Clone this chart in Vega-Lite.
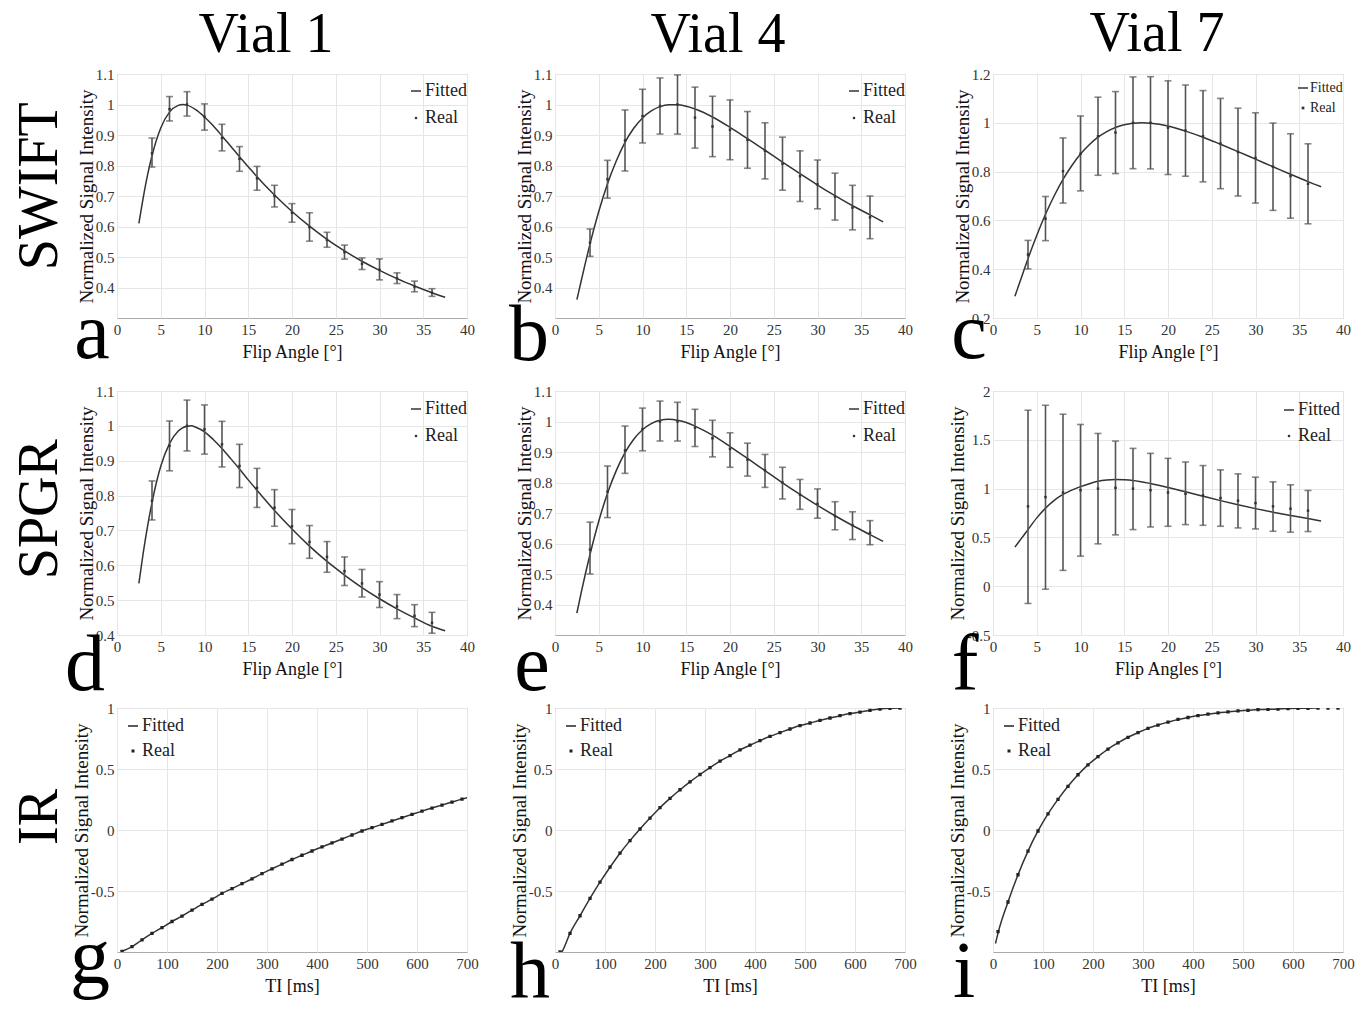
{
"$schema": "https://vega.github.io/schema/vega-lite/v6.json",
"background": "white",
"padding": {"left": 10, "top": 5, "right": 5, "bottom": 2},
"config": {
 "font": "Liberation Serif",
 "view": {"stroke": "#aaaaaa", "strokeWidth": 1},
 "style": {"guide-label": {"font": "Liberation Serif", "fill": "#333"}, "guide-title": {"font": "Liberation Serif"}},
 "axis": {"grid": true, "gridColor": "#e6e6e6", "gridWidth": 1, "domain": false, "ticks": false, "labelFont": "Liberation Serif", "labelFontSize": 15, "labelColor": "#333", "labelFlush": false, "labelOverlap": false, "labelBound": false, "titleFont": "Liberation Serif", "titleFontWeight": "normal", "titleColor": "#111"},
 "axisX": {"labelPadding": 4, "titlePadding": 6, "titleFontSize": 18},
 "axisY": {"labelPadding": 3, "titlePadding": -1, "titleFontSize": 19},
 "legend": {"labelFont": "Liberation Serif", "labelColor": "#222", "symbolStrokeWidth": 1.5, "padding": 0, "labelOffset": 0},
 "title": {"font": "Liberation Serif", "fontWeight": "normal", "color": "#000"}
},
"datasets": {
 "a_fit": [{"x":2.5,"y":0.61},{"x":3,"y":0.695},{"x":3.5,"y":0.77},{"x":4,"y":0.832},{"x":5,"y":0.923},{"x":6,"y":0.975},{"x":7,"y":0.997},{"x":7.5,"y":1.0},{"x":8,"y":0.998},{"x":9,"y":0.983},{"x":10,"y":0.959},{"x":11,"y":0.93},{"x":12,"y":0.897},{"x":13,"y":0.863},{"x":14,"y":0.829},{"x":15,"y":0.796},{"x":16,"y":0.763},{"x":18,"y":0.703},{"x":20,"y":0.649},{"x":22,"y":0.601},{"x":24,"y":0.558},{"x":26,"y":0.52},{"x":28,"y":0.486},{"x":30,"y":0.456},{"x":32,"y":0.429},{"x":34,"y":0.405},{"x":36,"y":0.383},{"x":37.5,"y":0.368}],
 "a_pts": [{"x":4,"y":0.84,"lo":0.795,"hi":0.89,"series":"Real"},{"x":6,"y":0.985,"lo":0.946,"hi":1.026,"series":"Real"},{"x":8,"y":1.0,"lo":0.962,"hi":1.042,"series":"Real"},{"x":10,"y":0.96,"lo":0.916,"hi":1.002,"series":"Real"},{"x":12,"y":0.89,"lo":0.848,"hi":0.935,"series":"Real"},{"x":14,"y":0.822,"lo":0.781,"hi":0.862,"series":"Real"},{"x":16,"y":0.758,"lo":0.719,"hi":0.797,"series":"Real"},{"x":18,"y":0.7,"lo":0.664,"hi":0.735,"series":"Real"},{"x":20,"y":0.645,"lo":0.614,"hi":0.675,"series":"Real"},{"x":22,"y":0.598,"lo":0.552,"hi":0.645,"series":"Real"},{"x":24,"y":0.556,"lo":0.532,"hi":0.581,"series":"Real"},{"x":26,"y":0.516,"lo":0.493,"hi":0.539,"series":"Real"},{"x":28,"y":0.478,"lo":0.459,"hi":0.497,"series":"Real"},{"x":30,"y":0.458,"lo":0.425,"hi":0.494,"series":"Real"},{"x":32,"y":0.43,"lo":0.413,"hi":0.448,"series":"Real"},{"x":34,"y":0.403,"lo":0.386,"hi":0.421,"series":"Real"},{"x":36,"y":0.383,"lo":0.371,"hi":0.396,"series":"Real"}],
 "b_fit": [{"x":2.5,"y":0.36},{"x":3,"y":0.422},{"x":3.5,"y":0.484},{"x":4,"y":0.543},{"x":5,"y":0.649},{"x":6,"y":0.74},{"x":7,"y":0.815},{"x":8,"y":0.876},{"x":9,"y":0.922},{"x":10,"y":0.956},{"x":11,"y":0.979},{"x":12,"y":0.993},{"x":13,"y":0.999},{"x":14,"y":0.999},{"x":15,"y":0.994},{"x":16,"y":0.985},{"x":18,"y":0.959},{"x":20,"y":0.925},{"x":22,"y":0.888},{"x":24,"y":0.85},{"x":26,"y":0.811},{"x":28,"y":0.773},{"x":30,"y":0.736},{"x":32,"y":0.701},{"x":34,"y":0.668},{"x":36,"y":0.638},{"x":37.5,"y":0.615}],
 "b_pts": [{"x":4,"y":0.547,"lo":0.502,"hi":0.592,"series":"Real"},{"x":6,"y":0.755,"lo":0.693,"hi":0.817,"series":"Real"},{"x":8,"y":0.882,"lo":0.782,"hi":0.982,"series":"Real"},{"x":10,"y":0.962,"lo":0.874,"hi":1.05,"series":"Real"},{"x":12,"y":0.995,"lo":0.903,"hi":1.087,"series":"Real"},{"x":14,"y":1.0,"lo":0.903,"hi":1.097,"series":"Real"},{"x":16,"y":0.957,"lo":0.857,"hi":1.057,"series":"Real"},{"x":18,"y":0.928,"lo":0.829,"hi":1.027,"series":"Real"},{"x":20,"y":0.917,"lo":0.819,"hi":1.015,"series":"Real"},{"x":22,"y":0.884,"lo":0.791,"hi":0.977,"series":"Real"},{"x":24,"y":0.848,"lo":0.756,"hi":0.94,"series":"Real"},{"x":26,"y":0.806,"lo":0.719,"hi":0.893,"series":"Real"},{"x":28,"y":0.765,"lo":0.682,"hi":0.848,"series":"Real"},{"x":30,"y":0.738,"lo":0.658,"hi":0.818,"series":"Real"},{"x":32,"y":0.698,"lo":0.621,"hi":0.775,"series":"Real"},{"x":34,"y":0.662,"lo":0.589,"hi":0.735,"series":"Real"},{"x":36,"y":0.63,"lo":0.56,"hi":0.7,"series":"Real"}],
 "c_fit": [{"x":2.5,"y":0.289},{"x":3,"y":0.34},{"x":3.5,"y":0.392},{"x":4,"y":0.443},{"x":5,"y":0.538},{"x":6,"y":0.625},{"x":7,"y":0.701},{"x":8,"y":0.768},{"x":9,"y":0.824},{"x":10,"y":0.872},{"x":11,"y":0.91},{"x":12,"y":0.941},{"x":13,"y":0.964},{"x":14,"y":0.981},{"x":15,"y":0.992},{"x":16,"y":0.998},{"x":17,"y":1.0},{"x":18,"y":0.998},{"x":20,"y":0.987},{"x":22,"y":0.966},{"x":24,"y":0.941},{"x":26,"y":0.912},{"x":28,"y":0.882},{"x":30,"y":0.851},{"x":32,"y":0.82},{"x":34,"y":0.789},{"x":36,"y":0.759},{"x":37.5,"y":0.738}],
 "c_pts": [{"x":4,"y":0.46,"lo":0.401,"hi":0.518,"series":"Real"},{"x":6,"y":0.607,"lo":0.517,"hi":0.698,"series":"Real"},{"x":8,"y":0.802,"lo":0.671,"hi":0.938,"series":"Real"},{"x":10,"y":0.873,"lo":0.721,"hi":1.028,"series":"Real"},{"x":12,"y":0.945,"lo":0.785,"hi":1.105,"series":"Real"},{"x":14,"y":0.96,"lo":0.792,"hi":1.128,"series":"Real"},{"x":16,"y":1.0,"lo":0.812,"hi":1.188,"series":"Real"},{"x":18,"y":1.0,"lo":0.811,"hi":1.189,"series":"Real"},{"x":20,"y":0.98,"lo":0.788,"hi":1.172,"series":"Real"},{"x":22,"y":0.968,"lo":0.781,"hi":1.155,"series":"Real"},{"x":24,"y":0.945,"lo":0.758,"hi":1.132,"series":"Real"},{"x":26,"y":0.915,"lo":0.73,"hi":1.1,"series":"Real"},{"x":28,"y":0.88,"lo":0.7,"hi":1.06,"series":"Real"},{"x":30,"y":0.856,"lo":0.671,"hi":1.041,"series":"Real"},{"x":32,"y":0.82,"lo":0.641,"hi":0.999,"series":"Real"},{"x":34,"y":0.782,"lo":0.609,"hi":0.955,"series":"Real"},{"x":36,"y":0.75,"lo":0.586,"hi":0.914,"series":"Real"}],
 "d_fit": [{"x":2.5,"y":0.548},{"x":3,"y":0.636},{"x":3.5,"y":0.713},{"x":4,"y":0.78},{"x":5,"y":0.884},{"x":6,"y":0.949},{"x":7,"y":0.985},{"x":8,"y":0.999},{"x":8.5,"y":1.0},{"x":9,"y":0.996},{"x":10,"y":0.983},{"x":11,"y":0.961},{"x":12,"y":0.935},{"x":13,"y":0.906},{"x":14,"y":0.876},{"x":15,"y":0.845},{"x":16,"y":0.815},{"x":18,"y":0.757},{"x":20,"y":0.704},{"x":22,"y":0.655},{"x":24,"y":0.611},{"x":26,"y":0.572},{"x":28,"y":0.536},{"x":30,"y":0.504},{"x":32,"y":0.475},{"x":34,"y":0.449},{"x":36,"y":0.425},{"x":37.5,"y":0.412}],
 "d_pts": [{"x":4,"y":0.785,"lo":0.73,"hi":0.842,"series":"Real"},{"x":6,"y":0.943,"lo":0.871,"hi":1.014,"series":"Real"},{"x":8,"y":1.0,"lo":0.928,"hi":1.074,"series":"Real"},{"x":10,"y":0.99,"lo":0.919,"hi":1.06,"series":"Real"},{"x":12,"y":0.947,"lo":0.882,"hi":1.013,"series":"Real"},{"x":14,"y":0.885,"lo":0.823,"hi":0.947,"series":"Real"},{"x":16,"y":0.822,"lo":0.766,"hi":0.878,"series":"Real"},{"x":18,"y":0.765,"lo":0.712,"hi":0.817,"series":"Real"},{"x":20,"y":0.712,"lo":0.662,"hi":0.76,"series":"Real"},{"x":22,"y":0.667,"lo":0.62,"hi":0.714,"series":"Real"},{"x":24,"y":0.624,"lo":0.58,"hi":0.668,"series":"Real"},{"x":26,"y":0.583,"lo":0.542,"hi":0.624,"series":"Real"},{"x":28,"y":0.548,"lo":0.509,"hi":0.588,"series":"Real"},{"x":30,"y":0.516,"lo":0.479,"hi":0.553,"series":"Real"},{"x":32,"y":0.482,"lo":0.447,"hi":0.516,"series":"Real"},{"x":34,"y":0.455,"lo":0.424,"hi":0.487,"series":"Real"},{"x":36,"y":0.435,"lo":0.405,"hi":0.465,"series":"Real"}],
 "e_fit": [{"x":2.5,"y":0.372},{"x":3,"y":0.44},{"x":3.5,"y":0.504},{"x":4,"y":0.564},{"x":5,"y":0.673},{"x":6,"y":0.765},{"x":7,"y":0.839},{"x":8,"y":0.898},{"x":9,"y":0.942},{"x":10,"y":0.973},{"x":11,"y":0.993},{"x":12,"y":1.004},{"x":13,"y":1.007},{"x":14,"y":1.004},{"x":15,"y":0.997},{"x":16,"y":0.985},{"x":18,"y":0.955},{"x":20,"y":0.918},{"x":22,"y":0.879},{"x":24,"y":0.839},{"x":26,"y":0.799},{"x":28,"y":0.761},{"x":30,"y":0.725},{"x":32,"y":0.691},{"x":34,"y":0.659},{"x":36,"y":0.629},{"x":37.5,"y":0.607}],
 "e_pts": [{"x":4,"y":0.58,"lo":0.5,"hi":0.67,"series":"Real"},{"x":6,"y":0.77,"lo":0.685,"hi":0.854,"series":"Real"},{"x":8,"y":0.905,"lo":0.83,"hi":0.985,"series":"Real"},{"x":10,"y":0.975,"lo":0.904,"hi":1.044,"series":"Real"},{"x":12,"y":1.0,"lo":0.936,"hi":1.067,"series":"Real"},{"x":14,"y":1.0,"lo":0.936,"hi":1.063,"series":"Real"},{"x":16,"y":0.98,"lo":0.918,"hi":1.04,"series":"Real"},{"x":18,"y":0.945,"lo":0.884,"hi":1.004,"series":"Real"},{"x":20,"y":0.91,"lo":0.85,"hi":0.963,"series":"Real"},{"x":22,"y":0.875,"lo":0.821,"hi":0.929,"series":"Real"},{"x":24,"y":0.84,"lo":0.784,"hi":0.892,"series":"Real"},{"x":26,"y":0.8,"lo":0.746,"hi":0.85,"series":"Real"},{"x":28,"y":0.76,"lo":0.712,"hi":0.81,"series":"Real"},{"x":30,"y":0.73,"lo":0.683,"hi":0.779,"series":"Real"},{"x":32,"y":0.69,"lo":0.645,"hi":0.737,"series":"Real"},{"x":34,"y":0.66,"lo":0.613,"hi":0.704,"series":"Real"},{"x":36,"y":0.635,"lo":0.596,"hi":0.675,"series":"Real"}],
 "f_fit": [{"x":2.5,"y":0.4},{"x":3,"y":0.46},{"x":3.5,"y":0.52},{"x":4,"y":0.58},{"x":5,"y":0.7},{"x":6,"y":0.8},{"x":7,"y":0.88},{"x":8,"y":0.94},{"x":9,"y":0.985},{"x":10,"y":1.02},{"x":11,"y":1.05},{"x":12,"y":1.075},{"x":13,"y":1.088},{"x":14,"y":1.093},{"x":15,"y":1.09},{"x":16,"y":1.083},{"x":18,"y":1.052},{"x":20,"y":1.012},{"x":22,"y":0.968},{"x":24,"y":0.922},{"x":26,"y":0.877},{"x":28,"y":0.835},{"x":30,"y":0.795},{"x":32,"y":0.758},{"x":34,"y":0.724},{"x":36,"y":0.693},{"x":37.5,"y":0.668}],
 "f_pts": [{"x":4,"y":0.818,"lo":-0.177,"hi":1.803,"series":"Real"},{"x":6,"y":0.913,"lo":-0.031,"hi":1.854,"series":"Real"},{"x":8,"y":0.96,"lo":0.162,"hi":1.762,"series":"Real"},{"x":10,"y":0.984,"lo":0.308,"hi":1.657,"series":"Real"},{"x":12,"y":1.0,"lo":0.434,"hi":1.565,"series":"Real"},{"x":14,"y":1.008,"lo":0.526,"hi":1.487,"series":"Real"},{"x":16,"y":1.0,"lo":0.58,"hi":1.412,"series":"Real"},{"x":18,"y":0.984,"lo":0.607,"hi":1.361,"series":"Real"},{"x":20,"y":0.96,"lo":0.614,"hi":1.31,"series":"Real"},{"x":22,"y":0.947,"lo":0.631,"hi":1.273,"series":"Real"},{"x":24,"y":0.93,"lo":0.624,"hi":1.236,"series":"Real"},{"x":26,"y":0.903,"lo":0.614,"hi":1.192,"series":"Real"},{"x":28,"y":0.876,"lo":0.597,"hi":1.151,"series":"Real"},{"x":30,"y":0.852,"lo":0.587,"hi":1.117,"series":"Real"},{"x":32,"y":0.818,"lo":0.563,"hi":1.069,"series":"Real"},{"x":34,"y":0.794,"lo":0.553,"hi":1.039,"series":"Real"},{"x":36,"y":0.774,"lo":0.56,"hi":0.981,"series":"Real"}],
 "g_fit": [{"x":10,"y":-0.995},{"x":30,"y":-0.956},{"x":50,"y":-0.9},{"x":70,"y":-0.848},{"x":90,"y":-0.8},{"x":110,"y":-0.75},{"x":130,"y":-0.706},{"x":150,"y":-0.657},{"x":170,"y":-0.61},{"x":190,"y":-0.567},{"x":210,"y":-0.52},{"x":230,"y":-0.48},{"x":250,"y":-0.44},{"x":270,"y":-0.4},{"x":290,"y":-0.357},{"x":310,"y":-0.318},{"x":330,"y":-0.28},{"x":350,"y":-0.242},{"x":370,"y":-0.207},{"x":390,"y":-0.172},{"x":410,"y":-0.139},{"x":430,"y":-0.106},{"x":450,"y":-0.074},{"x":470,"y":-0.041},{"x":490,"y":-0.008},{"x":510,"y":0.019},{"x":530,"y":0.046},{"x":550,"y":0.074},{"x":570,"y":0.101},{"x":590,"y":0.128},{"x":610,"y":0.155},{"x":630,"y":0.18},{"x":650,"y":0.204},{"x":670,"y":0.229},{"x":690,"y":0.253},{"x":700,"y":0.264}],
 "g_pts": [{"x":10,"y":-0.995,"series":"Real"},{"x":30,"y":-0.956,"series":"Real"},{"x":50,"y":-0.9,"series":"Real"},{"x":70,"y":-0.848,"series":"Real"},{"x":90,"y":-0.8,"series":"Real"},{"x":110,"y":-0.75,"series":"Real"},{"x":130,"y":-0.706,"series":"Real"},{"x":150,"y":-0.657,"series":"Real"},{"x":170,"y":-0.61,"series":"Real"},{"x":190,"y":-0.567,"series":"Real"},{"x":210,"y":-0.52,"series":"Real"},{"x":230,"y":-0.48,"series":"Real"},{"x":250,"y":-0.44,"series":"Real"},{"x":270,"y":-0.4,"series":"Real"},{"x":290,"y":-0.357,"series":"Real"},{"x":310,"y":-0.318,"series":"Real"},{"x":330,"y":-0.28,"series":"Real"},{"x":350,"y":-0.242,"series":"Real"},{"x":370,"y":-0.207,"series":"Real"},{"x":390,"y":-0.172,"series":"Real"},{"x":410,"y":-0.139,"series":"Real"},{"x":430,"y":-0.106,"series":"Real"},{"x":450,"y":-0.074,"series":"Real"},{"x":470,"y":-0.041,"series":"Real"},{"x":490,"y":-0.008,"series":"Real"},{"x":510,"y":0.019,"series":"Real"},{"x":530,"y":0.046,"series":"Real"},{"x":550,"y":0.074,"series":"Real"},{"x":570,"y":0.101,"series":"Real"},{"x":590,"y":0.128,"series":"Real"},{"x":610,"y":0.155,"series":"Real"},{"x":630,"y":0.18,"series":"Real"},{"x":650,"y":0.204,"series":"Real"},{"x":670,"y":0.229,"series":"Real"},{"x":690,"y":0.253,"series":"Real"}],
 "h_fit": [{"x":10,"y":-1.02},{"x":15,"y":-0.99},{"x":30,"y":-0.847},{"x":50,"y":-0.703},{"x":70,"y":-0.561},{"x":90,"y":-0.428},{"x":110,"y":-0.305},{"x":130,"y":-0.19},{"x":150,"y":-0.087},{"x":170,"y":0.008},{"x":190,"y":0.098},{"x":210,"y":0.183},{"x":230,"y":0.259},{"x":250,"y":0.33},{"x":270,"y":0.395},{"x":290,"y":0.455},{"x":310,"y":0.512},{"x":330,"y":0.564},{"x":350,"y":0.61},{"x":370,"y":0.657},{"x":390,"y":0.695},{"x":410,"y":0.733},{"x":430,"y":0.768},{"x":450,"y":0.798},{"x":470,"y":0.828},{"x":490,"y":0.856},{"x":510,"y":0.877},{"x":530,"y":0.899},{"x":550,"y":0.918},{"x":570,"y":0.937},{"x":590,"y":0.954},{"x":610,"y":0.967},{"x":630,"y":0.981},{"x":650,"y":0.992},{"x":670,"y":0.998},{"x":690,"y":1.0}],
 "h_pts": [{"x":10,"y":-1.0,"series":"Real"},{"x":30,"y":-0.847,"series":"Real"},{"x":50,"y":-0.703,"series":"Real"},{"x":70,"y":-0.561,"series":"Real"},{"x":90,"y":-0.428,"series":"Real"},{"x":110,"y":-0.305,"series":"Real"},{"x":130,"y":-0.19,"series":"Real"},{"x":150,"y":-0.087,"series":"Real"},{"x":170,"y":0.008,"series":"Real"},{"x":190,"y":0.098,"series":"Real"},{"x":210,"y":0.183,"series":"Real"},{"x":230,"y":0.259,"series":"Real"},{"x":250,"y":0.33,"series":"Real"},{"x":270,"y":0.395,"series":"Real"},{"x":290,"y":0.455,"series":"Real"},{"x":310,"y":0.512,"series":"Real"},{"x":330,"y":0.564,"series":"Real"},{"x":350,"y":0.61,"series":"Real"},{"x":370,"y":0.657,"series":"Real"},{"x":390,"y":0.695,"series":"Real"},{"x":410,"y":0.733,"series":"Real"},{"x":430,"y":0.768,"series":"Real"},{"x":450,"y":0.798,"series":"Real"},{"x":470,"y":0.828,"series":"Real"},{"x":490,"y":0.856,"series":"Real"},{"x":510,"y":0.877,"series":"Real"},{"x":530,"y":0.899,"series":"Real"},{"x":550,"y":0.918,"series":"Real"},{"x":570,"y":0.937,"series":"Real"},{"x":590,"y":0.954,"series":"Real"},{"x":610,"y":0.967,"series":"Real"},{"x":630,"y":0.981,"series":"Real"},{"x":650,"y":0.992,"series":"Real"},{"x":670,"y":0.998,"series":"Real"},{"x":690,"y":1.0,"series":"Real"}],
 "i_fit": [{"x":5,"y":-0.93},{"x":10,"y":-0.845},{"x":30,"y":-0.59},{"x":50,"y":-0.367},{"x":70,"y":-0.173},{"x":90,"y":-0.008},{"x":110,"y":0.132},{"x":130,"y":0.251},{"x":150,"y":0.358},{"x":170,"y":0.453},{"x":190,"y":0.534},{"x":210,"y":0.601},{"x":230,"y":0.663},{"x":250,"y":0.714},{"x":270,"y":0.76},{"x":290,"y":0.798},{"x":310,"y":0.833},{"x":330,"y":0.86},{"x":350,"y":0.884},{"x":370,"y":0.906},{"x":390,"y":0.922},{"x":410,"y":0.938},{"x":430,"y":0.949},{"x":450,"y":0.96},{"x":470,"y":0.968},{"x":490,"y":0.976},{"x":510,"y":0.981},{"x":530,"y":0.987},{"x":550,"y":0.989},{"x":570,"y":0.992},{"x":590,"y":0.995},{"x":610,"y":0.997},{"x":630,"y":0.998},{"x":650,"y":1.0}],
 "i_pts": [{"x":10,"y":-0.833,"series":"Real"},{"x":30,"y":-0.59,"series":"Real"},{"x":50,"y":-0.367,"series":"Real"},{"x":70,"y":-0.173,"series":"Real"},{"x":90,"y":-0.008,"series":"Real"},{"x":110,"y":0.132,"series":"Real"},{"x":130,"y":0.251,"series":"Real"},{"x":150,"y":0.358,"series":"Real"},{"x":170,"y":0.453,"series":"Real"},{"x":190,"y":0.534,"series":"Real"},{"x":210,"y":0.601,"series":"Real"},{"x":230,"y":0.663,"series":"Real"},{"x":250,"y":0.714,"series":"Real"},{"x":270,"y":0.76,"series":"Real"},{"x":290,"y":0.798,"series":"Real"},{"x":310,"y":0.833,"series":"Real"},{"x":330,"y":0.86,"series":"Real"},{"x":350,"y":0.884,"series":"Real"},{"x":370,"y":0.906,"series":"Real"},{"x":390,"y":0.922,"series":"Real"},{"x":410,"y":0.938,"series":"Real"},{"x":430,"y":0.949,"series":"Real"},{"x":450,"y":0.96,"series":"Real"},{"x":470,"y":0.968,"series":"Real"},{"x":490,"y":0.976,"series":"Real"},{"x":510,"y":0.981,"series":"Real"},{"x":530,"y":0.987,"series":"Real"},{"x":550,"y":0.989,"series":"Real"},{"x":570,"y":0.992,"series":"Real"},{"x":590,"y":0.995,"series":"Real"},{"x":610,"y":0.997,"series":"Real"},{"x":630,"y":0.998,"series":"Real"},{"x":650,"y":1.0,"series":"Real"},{"x":670,"y":1.0,"series":"Real"},{"x":690,"y":1.0,"series":"Real"}]
},
"columns": 3,
"spacing": {"row": 73, "column": 88},
"bounds": "flush",
"resolve": {"scale": {"x": "independent", "y": "independent", "shape": "independent"}, "legend": {"shape": "independent"}},
"concat": [
  {"width": 350, "height": 244,
   "title": {"text": "Vial 1", "fontSize": 56, "anchor": "middle", "frame": "group", "baseline": "alphabetic", "offset": -41, "dx": -26},
   "layer": [
    {"data": {"name": "a_fit"}, "mark": {"type": "line", "color": "#333", "strokeWidth": 1.5, "interpolate": "monotone", "clip": true},
     "encoding": {"x": {"field": "x", "type": "quantitative", "title": "Flip Angle [°]", "scale": {"domain": [0, 40], "nice": false}, "axis": {"values": [0,5,10,15,20,25,30,35,40], "labelExpr": "format(datum.value, '~g')", "labelFont": "Liberation Serif"}},
                  "y": {"field": "y", "type": "quantitative", "title": "Normalized Signal Intensity", "scale": {"domain": [0.3, 1.1], "nice": false, "zero": false}, "axis": {"values": [0.4,0.5,0.6,0.7,0.8,0.9,1,1.1], "labelExpr": "format(datum.value, '~g')", "labelFont": "Liberation Serif"}}}},
    {"data": {"name": "a_pts"}, "mark": {"type": "errorbar", "ticks": {"size": 7}, "color": "#555", "thickness": 1.6},
     "encoding": {"x": {"field": "x", "type": "quantitative", "title": "Flip Angle [°]", "scale": {"domain": [0, 40], "nice": false}, "axis": {"values": [0,5,10,15,20,25,30,35,40], "labelExpr": "format(datum.value, '~g')", "labelFont": "Liberation Serif"}},
                  "y": {"field": "lo", "type": "quantitative", "title": "Normalized Signal Intensity", "scale": {"domain": [0.3, 1.1], "nice": false, "zero": false}, "axis": {"values": [0.4,0.5,0.6,0.7,0.8,0.9,1,1.1], "labelExpr": "format(datum.value, '~g')", "labelFont": "Liberation Serif"}}, "y2": {"field": "hi"}}},
    {"data": {"name": "a_pts"}, "mark": {"type": "point", "filled": false, "color": "#333", "strokeWidth": 1.5, "size": 144, "opacity": 1},
     "encoding": {"x": {"field": "x", "type": "quantitative", "title": "Flip Angle [°]", "scale": {"domain": [0, 40], "nice": false}, "axis": {"values": [0,5,10,15,20,25,30,35,40], "labelExpr": "format(datum.value, '~g')", "labelFont": "Liberation Serif"}},
                  "y": {"field": "y", "type": "quantitative", "title": "Normalized Signal Intensity", "scale": {"domain": [0.3, 1.1], "nice": false, "zero": false}, "axis": {"values": [0.4,0.5,0.6,0.7,0.8,0.9,1,1.1], "labelExpr": "format(datum.value, '~g')", "labelFont": "Liberation Serif"}},
                  "shape": {"field": "series", "type": "nominal", "scale": {"domain": ["Fitted", "Real"], "range": ["M-1,0H1", "M-0.08,-0.08H0.08V0.08H-0.08Z"]}, "legend": {"title": null, "orient": "none", "legendX": 290, "legendY": 8, "labelFontSize": 18, "rowPadding": 9}}}},
    {"data": {"values": [{}]}, "mark": {"type": "text", "text": "a", "fontSize": 80, "font": "Liberation Serif", "align": "center", "baseline": "alphabetic", "color": "#000"},
     "encoding": {"x": {"datum": -2.86, "type": "quantitative", "title": "Flip Angle [°]", "scale": {"domain": [0, 40], "nice": false}, "axis": {"values": [0,5,10,15,20,25,30,35,40], "labelExpr": "format(datum.value, '~g')", "labelFont": "Liberation Serif"}},
                  "y": {"datum": 0.169, "type": "quantitative", "title": "Normalized Signal Intensity", "scale": {"domain": [0.3, 1.1], "nice": false, "zero": false}, "axis": {"values": [0.4,0.5,0.6,0.7,0.8,0.9,1,1.1], "labelExpr": "format(datum.value, '~g')", "labelFont": "Liberation Serif"}}}},
    {"data": {"values": [{}]}, "mark": {"type": "text", "text": "SWIFT", "angle": 270, "fontSize": 56, "font": "Liberation Serif", "align": "center", "baseline": "alphabetic", "color": "#000"},
     "encoding": {"x": {"datum": -6.9, "type": "quantitative", "title": "Flip Angle [°]", "scale": {"domain": [0, 40], "nice": false}, "axis": {"values": [0,5,10,15,20,25,30,35,40], "labelExpr": "format(datum.value, '~g')", "labelFont": "Liberation Serif"}},
                  "y": {"datum": 0.732, "type": "quantitative", "title": "Normalized Signal Intensity", "scale": {"domain": [0.3, 1.1], "nice": false, "zero": false}, "axis": {"values": [0.4,0.5,0.6,0.7,0.8,0.9,1,1.1], "labelExpr": "format(datum.value, '~g')", "labelFont": "Liberation Serif"}}}}
   ]},
  {"width": 350, "height": 244,
   "title": {"text": "Vial 4", "fontSize": 56, "anchor": "middle", "frame": "group", "baseline": "alphabetic", "offset": -41, "dx": -12},
   "layer": [
    {"data": {"name": "b_fit"}, "mark": {"type": "line", "color": "#333", "strokeWidth": 1.5, "interpolate": "monotone", "clip": true},
     "encoding": {"x": {"field": "x", "type": "quantitative", "title": "Flip Angle [°]", "scale": {"domain": [0, 40], "nice": false}, "axis": {"values": [0,5,10,15,20,25,30,35,40], "labelExpr": "format(datum.value, '~g')", "labelFont": "Liberation Serif"}},
                  "y": {"field": "y", "type": "quantitative", "title": "Normalized Signal Intensity", "scale": {"domain": [0.3, 1.1], "nice": false, "zero": false}, "axis": {"values": [0.4,0.5,0.6,0.7,0.8,0.9,1,1.1], "labelExpr": "format(datum.value, '~g')", "labelFont": "Liberation Serif"}}}},
    {"data": {"name": "b_pts"}, "mark": {"type": "errorbar", "ticks": {"size": 7}, "color": "#555", "thickness": 1.6},
     "encoding": {"x": {"field": "x", "type": "quantitative", "title": "Flip Angle [°]", "scale": {"domain": [0, 40], "nice": false}, "axis": {"values": [0,5,10,15,20,25,30,35,40], "labelExpr": "format(datum.value, '~g')", "labelFont": "Liberation Serif"}},
                  "y": {"field": "lo", "type": "quantitative", "title": "Normalized Signal Intensity", "scale": {"domain": [0.3, 1.1], "nice": false, "zero": false}, "axis": {"values": [0.4,0.5,0.6,0.7,0.8,0.9,1,1.1], "labelExpr": "format(datum.value, '~g')", "labelFont": "Liberation Serif"}}, "y2": {"field": "hi"}}},
    {"data": {"name": "b_pts"}, "mark": {"type": "point", "filled": false, "color": "#333", "strokeWidth": 1.5, "size": 144, "opacity": 1},
     "encoding": {"x": {"field": "x", "type": "quantitative", "title": "Flip Angle [°]", "scale": {"domain": [0, 40], "nice": false}, "axis": {"values": [0,5,10,15,20,25,30,35,40], "labelExpr": "format(datum.value, '~g')", "labelFont": "Liberation Serif"}},
                  "y": {"field": "y", "type": "quantitative", "title": "Normalized Signal Intensity", "scale": {"domain": [0.3, 1.1], "nice": false, "zero": false}, "axis": {"values": [0.4,0.5,0.6,0.7,0.8,0.9,1,1.1], "labelExpr": "format(datum.value, '~g')", "labelFont": "Liberation Serif"}},
                  "shape": {"field": "series", "type": "nominal", "scale": {"domain": ["Fitted", "Real"], "range": ["M-1,0H1", "M-0.08,-0.08H0.08V0.08H-0.08Z"]}, "legend": {"title": null, "orient": "none", "legendX": 290, "legendY": 8, "labelFontSize": 18, "rowPadding": 9}}}},
    {"data": {"values": [{}]}, "mark": {"type": "text", "text": "b", "fontSize": 80, "font": "Liberation Serif", "align": "center", "baseline": "alphabetic", "color": "#000"},
     "encoding": {"x": {"datum": -2.97, "type": "quantitative", "title": "Flip Angle [°]", "scale": {"domain": [0, 40], "nice": false}, "axis": {"values": [0,5,10,15,20,25,30,35,40], "labelExpr": "format(datum.value, '~g')", "labelFont": "Liberation Serif"}},
                  "y": {"datum": 0.162, "type": "quantitative", "title": "Normalized Signal Intensity", "scale": {"domain": [0.3, 1.1], "nice": false, "zero": false}, "axis": {"values": [0.4,0.5,0.6,0.7,0.8,0.9,1,1.1], "labelExpr": "format(datum.value, '~g')", "labelFont": "Liberation Serif"}}}}
   ]},
  {"width": 350, "height": 244,
   "title": {"text": "Vial 7", "fontSize": 56, "anchor": "middle", "frame": "group", "baseline": "alphabetic", "offset": -40, "dx": -11},
   "layer": [
    {"data": {"name": "c_fit"}, "mark": {"type": "line", "color": "#333", "strokeWidth": 1.5, "interpolate": "monotone", "clip": true},
     "encoding": {"x": {"field": "x", "type": "quantitative", "title": "Flip Angle [°]", "scale": {"domain": [0, 40], "nice": false}, "axis": {"values": [0,5,10,15,20,25,30,35,40], "labelExpr": "format(datum.value, '~g')", "labelFont": "Liberation Serif"}},
                  "y": {"field": "y", "type": "quantitative", "title": "Normalized Signal Intensity", "scale": {"domain": [0.2, 1.2], "nice": false, "zero": false}, "axis": {"values": [0.2,0.4,0.6,0.8,1,1.2], "labelExpr": "format(datum.value, '~g')", "labelFont": "Liberation Serif"}}}},
    {"data": {"name": "c_pts"}, "mark": {"type": "errorbar", "ticks": {"size": 7}, "color": "#555", "thickness": 1.6},
     "encoding": {"x": {"field": "x", "type": "quantitative", "title": "Flip Angle [°]", "scale": {"domain": [0, 40], "nice": false}, "axis": {"values": [0,5,10,15,20,25,30,35,40], "labelExpr": "format(datum.value, '~g')", "labelFont": "Liberation Serif"}},
                  "y": {"field": "lo", "type": "quantitative", "title": "Normalized Signal Intensity", "scale": {"domain": [0.2, 1.2], "nice": false, "zero": false}, "axis": {"values": [0.2,0.4,0.6,0.8,1,1.2], "labelExpr": "format(datum.value, '~g')", "labelFont": "Liberation Serif"}}, "y2": {"field": "hi"}}},
    {"data": {"name": "c_pts"}, "mark": {"type": "point", "filled": false, "color": "#333", "strokeWidth": 1.5, "size": 64, "opacity": 1},
     "encoding": {"x": {"field": "x", "type": "quantitative", "title": "Flip Angle [°]", "scale": {"domain": [0, 40], "nice": false}, "axis": {"values": [0,5,10,15,20,25,30,35,40], "labelExpr": "format(datum.value, '~g')", "labelFont": "Liberation Serif"}},
                  "y": {"field": "y", "type": "quantitative", "title": "Normalized Signal Intensity", "scale": {"domain": [0.2, 1.2], "nice": false, "zero": false}, "axis": {"values": [0.2,0.4,0.6,0.8,1,1.2], "labelExpr": "format(datum.value, '~g')", "labelFont": "Liberation Serif"}},
                  "shape": {"field": "series", "type": "nominal", "scale": {"domain": ["Fitted", "Real"], "range": ["M-1,0H1", "M-0.12,-0.12H0.12V0.12H-0.12Z"]}, "legend": {"title": null, "orient": "none", "legendX": 303, "legendY": 7, "labelFontSize": 14, "rowPadding": 6}}}},
    {"data": {"values": [{}]}, "mark": {"type": "text", "text": "c", "fontSize": 80, "font": "Liberation Serif", "align": "center", "baseline": "alphabetic", "color": "#000"},
     "encoding": {"x": {"datum": -2.74, "type": "quantitative", "title": "Flip Angle [°]", "scale": {"domain": [0, 40], "nice": false}, "axis": {"values": [0,5,10,15,20,25,30,35,40], "labelExpr": "format(datum.value, '~g')", "labelFont": "Liberation Serif"}},
                  "y": {"datum": 0.036, "type": "quantitative", "title": "Normalized Signal Intensity", "scale": {"domain": [0.2, 1.2], "nice": false, "zero": false}, "axis": {"values": [0.2,0.4,0.6,0.8,1,1.2], "labelExpr": "format(datum.value, '~g')", "labelFont": "Liberation Serif"}}}}
   ]},
  {"width": 350, "height": 244,
   "layer": [
    {"data": {"name": "d_fit"}, "mark": {"type": "line", "color": "#333", "strokeWidth": 1.5, "interpolate": "monotone", "clip": true},
     "encoding": {"x": {"field": "x", "type": "quantitative", "title": "Flip Angle [°]", "scale": {"domain": [0, 40], "nice": false}, "axis": {"values": [0,5,10,15,20,25,30,35,40], "labelExpr": "format(datum.value, '~g')", "labelFont": "Liberation Serif"}},
                  "y": {"field": "y", "type": "quantitative", "title": "Normalized Signal Intensity", "scale": {"domain": [0.4, 1.1], "nice": false, "zero": false}, "axis": {"values": [0.4,0.5,0.6,0.7,0.8,0.9,1,1.1], "labelExpr": "format(datum.value, '~g')", "labelFont": "Liberation Serif"}}}},
    {"data": {"name": "d_pts"}, "mark": {"type": "errorbar", "ticks": {"size": 7}, "color": "#555", "thickness": 1.6},
     "encoding": {"x": {"field": "x", "type": "quantitative", "title": "Flip Angle [°]", "scale": {"domain": [0, 40], "nice": false}, "axis": {"values": [0,5,10,15,20,25,30,35,40], "labelExpr": "format(datum.value, '~g')", "labelFont": "Liberation Serif"}},
                  "y": {"field": "lo", "type": "quantitative", "title": "Normalized Signal Intensity", "scale": {"domain": [0.4, 1.1], "nice": false, "zero": false}, "axis": {"values": [0.4,0.5,0.6,0.7,0.8,0.9,1,1.1], "labelExpr": "format(datum.value, '~g')", "labelFont": "Liberation Serif"}}, "y2": {"field": "hi"}}},
    {"data": {"name": "d_pts"}, "mark": {"type": "point", "filled": false, "color": "#333", "strokeWidth": 1.5, "size": 144, "opacity": 1},
     "encoding": {"x": {"field": "x", "type": "quantitative", "title": "Flip Angle [°]", "scale": {"domain": [0, 40], "nice": false}, "axis": {"values": [0,5,10,15,20,25,30,35,40], "labelExpr": "format(datum.value, '~g')", "labelFont": "Liberation Serif"}},
                  "y": {"field": "y", "type": "quantitative", "title": "Normalized Signal Intensity", "scale": {"domain": [0.4, 1.1], "nice": false, "zero": false}, "axis": {"values": [0.4,0.5,0.6,0.7,0.8,0.9,1,1.1], "labelExpr": "format(datum.value, '~g')", "labelFont": "Liberation Serif"}},
                  "shape": {"field": "series", "type": "nominal", "scale": {"domain": ["Fitted", "Real"], "range": ["M-1,0H1", "M-0.08,-0.08H0.08V0.08H-0.08Z"]}, "legend": {"title": null, "orient": "none", "legendX": 290, "legendY": 9, "labelFontSize": 18, "rowPadding": 9}}}},
    {"data": {"values": [{}]}, "mark": {"type": "text", "text": "d", "fontSize": 80, "font": "Liberation Serif", "align": "center", "baseline": "alphabetic", "color": "#000"},
     "encoding": {"x": {"datum": -3.66, "type": "quantitative", "title": "Flip Angle [°]", "scale": {"domain": [0, 40], "nice": false}, "axis": {"values": [0,5,10,15,20,25,30,35,40], "labelExpr": "format(datum.value, '~g')", "labelFont": "Liberation Serif"}},
                  "y": {"datum": 0.242, "type": "quantitative", "title": "Normalized Signal Intensity", "scale": {"domain": [0.4, 1.1], "nice": false, "zero": false}, "axis": {"values": [0.4,0.5,0.6,0.7,0.8,0.9,1,1.1], "labelExpr": "format(datum.value, '~g')", "labelFont": "Liberation Serif"}}}},
    {"data": {"values": [{}]}, "mark": {"type": "text", "text": "SPGR", "angle": 270, "fontSize": 56, "font": "Liberation Serif", "align": "center", "baseline": "alphabetic", "color": "#000"},
     "encoding": {"x": {"datum": -6.9, "type": "quantitative", "title": "Flip Angle [°]", "scale": {"domain": [0, 40], "nice": false}, "axis": {"values": [0,5,10,15,20,25,30,35,40], "labelExpr": "format(datum.value, '~g')", "labelFont": "Liberation Serif"}},
                  "y": {"datum": 0.761, "type": "quantitative", "title": "Normalized Signal Intensity", "scale": {"domain": [0.4, 1.1], "nice": false, "zero": false}, "axis": {"values": [0.4,0.5,0.6,0.7,0.8,0.9,1,1.1], "labelExpr": "format(datum.value, '~g')", "labelFont": "Liberation Serif"}}}}
   ]},
  {"width": 350, "height": 244,
   "layer": [
    {"data": {"name": "e_fit"}, "mark": {"type": "line", "color": "#333", "strokeWidth": 1.5, "interpolate": "monotone", "clip": true},
     "encoding": {"x": {"field": "x", "type": "quantitative", "title": "Flip Angle [°]", "scale": {"domain": [0, 40], "nice": false}, "axis": {"values": [0,5,10,15,20,25,30,35,40], "labelExpr": "format(datum.value, '~g')", "labelFont": "Liberation Serif"}},
                  "y": {"field": "y", "type": "quantitative", "title": "Normalized Signal Intensity", "scale": {"domain": [0.3, 1.1], "nice": false, "zero": false}, "axis": {"values": [0.4,0.5,0.6,0.7,0.8,0.9,1,1.1], "labelExpr": "format(datum.value, '~g')", "labelFont": "Liberation Serif"}}}},
    {"data": {"name": "e_pts"}, "mark": {"type": "errorbar", "ticks": {"size": 7}, "color": "#555", "thickness": 1.6},
     "encoding": {"x": {"field": "x", "type": "quantitative", "title": "Flip Angle [°]", "scale": {"domain": [0, 40], "nice": false}, "axis": {"values": [0,5,10,15,20,25,30,35,40], "labelExpr": "format(datum.value, '~g')", "labelFont": "Liberation Serif"}},
                  "y": {"field": "lo", "type": "quantitative", "title": "Normalized Signal Intensity", "scale": {"domain": [0.3, 1.1], "nice": false, "zero": false}, "axis": {"values": [0.4,0.5,0.6,0.7,0.8,0.9,1,1.1], "labelExpr": "format(datum.value, '~g')", "labelFont": "Liberation Serif"}}, "y2": {"field": "hi"}}},
    {"data": {"name": "e_pts"}, "mark": {"type": "point", "filled": false, "color": "#333", "strokeWidth": 1.5, "size": 144, "opacity": 1},
     "encoding": {"x": {"field": "x", "type": "quantitative", "title": "Flip Angle [°]", "scale": {"domain": [0, 40], "nice": false}, "axis": {"values": [0,5,10,15,20,25,30,35,40], "labelExpr": "format(datum.value, '~g')", "labelFont": "Liberation Serif"}},
                  "y": {"field": "y", "type": "quantitative", "title": "Normalized Signal Intensity", "scale": {"domain": [0.3, 1.1], "nice": false, "zero": false}, "axis": {"values": [0.4,0.5,0.6,0.7,0.8,0.9,1,1.1], "labelExpr": "format(datum.value, '~g')", "labelFont": "Liberation Serif"}},
                  "shape": {"field": "series", "type": "nominal", "scale": {"domain": ["Fitted", "Real"], "range": ["M-1,0H1", "M-0.08,-0.08H0.08V0.08H-0.08Z"]}, "legend": {"title": null, "orient": "none", "legendX": 290, "legendY": 9, "labelFontSize": 18, "rowPadding": 9}}}},
    {"data": {"values": [{}]}, "mark": {"type": "text", "text": "e", "fontSize": 80, "font": "Liberation Serif", "align": "center", "baseline": "alphabetic", "color": "#000"},
     "encoding": {"x": {"datum": -2.63, "type": "quantitative", "title": "Flip Angle [°]", "scale": {"domain": [0, 40], "nice": false}, "axis": {"values": [0,5,10,15,20,25,30,35,40], "labelExpr": "format(datum.value, '~g')", "labelFont": "Liberation Serif"}},
                  "y": {"datum": 0.12, "type": "quantitative", "title": "Normalized Signal Intensity", "scale": {"domain": [0.3, 1.1], "nice": false, "zero": false}, "axis": {"values": [0.4,0.5,0.6,0.7,0.8,0.9,1,1.1], "labelExpr": "format(datum.value, '~g')", "labelFont": "Liberation Serif"}}}}
   ]},
  {"width": 350, "height": 244,
   "layer": [
    {"data": {"name": "f_fit"}, "mark": {"type": "line", "color": "#333", "strokeWidth": 1.5, "interpolate": "monotone", "clip": true},
     "encoding": {"x": {"field": "x", "type": "quantitative", "title": "Flip Angles [°]", "scale": {"domain": [0, 40], "nice": false}, "axis": {"values": [0,5,10,15,20,25,30,35,40], "labelExpr": "format(datum.value, '~g')", "labelFont": "Liberation Serif"}},
                  "y": {"field": "y", "type": "quantitative", "title": "Normalized Signal Intensity", "scale": {"domain": [-0.5, 2], "nice": false, "zero": false}, "axis": {"values": [-0.5,0,0.5,1,1.5,2], "labelExpr": "datum.value < 0 ? '-' + format(-datum.value, '~g') : format(datum.value, '~g')", "labelFont": "Liberation Serif"}}}},
    {"data": {"name": "f_pts"}, "mark": {"type": "errorbar", "ticks": {"size": 7}, "color": "#555", "thickness": 1.6},
     "encoding": {"x": {"field": "x", "type": "quantitative", "title": "Flip Angles [°]", "scale": {"domain": [0, 40], "nice": false}, "axis": {"values": [0,5,10,15,20,25,30,35,40], "labelExpr": "format(datum.value, '~g')", "labelFont": "Liberation Serif"}},
                  "y": {"field": "lo", "type": "quantitative", "title": "Normalized Signal Intensity", "scale": {"domain": [-0.5, 2], "nice": false, "zero": false}, "axis": {"values": [-0.5,0,0.5,1,1.5,2], "labelExpr": "datum.value < 0 ? '-' + format(-datum.value, '~g') : format(datum.value, '~g')", "labelFont": "Liberation Serif"}}, "y2": {"field": "hi"}}},
    {"data": {"name": "f_pts"}, "mark": {"type": "point", "filled": false, "color": "#333", "strokeWidth": 1.5, "size": 144, "opacity": 1},
     "encoding": {"x": {"field": "x", "type": "quantitative", "title": "Flip Angles [°]", "scale": {"domain": [0, 40], "nice": false}, "axis": {"values": [0,5,10,15,20,25,30,35,40], "labelExpr": "format(datum.value, '~g')", "labelFont": "Liberation Serif"}},
                  "y": {"field": "y", "type": "quantitative", "title": "Normalized Signal Intensity", "scale": {"domain": [-0.5, 2], "nice": false, "zero": false}, "axis": {"values": [-0.5,0,0.5,1,1.5,2], "labelExpr": "datum.value < 0 ? '-' + format(-datum.value, '~g') : format(datum.value, '~g')", "labelFont": "Liberation Serif"}},
                  "shape": {"field": "series", "type": "nominal", "scale": {"domain": ["Fitted", "Real"], "range": ["M-1,0H1", "M-0.08,-0.08H0.08V0.08H-0.08Z"]}, "legend": {"title": null, "orient": "none", "legendX": 287, "legendY": 10, "labelFontSize": 18, "rowPadding": 8}}}},
    {"data": {"values": [{}]}, "mark": {"type": "text", "text": "f", "fontSize": 80, "font": "Liberation Serif", "align": "center", "baseline": "alphabetic", "color": "#000"},
     "encoding": {"x": {"datum": -3.2, "type": "quantitative", "title": "Flip Angles [°]", "scale": {"domain": [0, 40], "nice": false}, "axis": {"values": [0,5,10,15,20,25,30,35,40], "labelExpr": "format(datum.value, '~g')", "labelFont": "Liberation Serif"}},
                  "y": {"datum": -1.063, "type": "quantitative", "title": "Normalized Signal Intensity", "scale": {"domain": [-0.5, 2], "nice": false, "zero": false}, "axis": {"values": [-0.5,0,0.5,1,1.5,2], "labelExpr": "datum.value < 0 ? '-' + format(-datum.value, '~g') : format(datum.value, '~g')", "labelFont": "Liberation Serif"}}}}
   ]},
  {"width": 350, "height": 244,
   "layer": [
    {"data": {"name": "g_fit"}, "mark": {"type": "line", "color": "#333", "strokeWidth": 1.5, "interpolate": "monotone", "clip": true},
     "encoding": {"x": {"field": "x", "type": "quantitative", "title": "TI [ms]", "scale": {"domain": [0, 700], "nice": false}, "axis": {"values": [0,100,200,300,400,500,600,700], "labelExpr": "format(datum.value, '~g')", "labelFont": "Liberation Serif"}},
                  "y": {"field": "y", "type": "quantitative", "title": "Normalized Signal Intensity", "scale": {"domain": [-1, 1], "nice": false, "zero": false}, "axis": {"values": [-0.5,0,0.5,1], "labelExpr": "datum.value < 0 ? '-' + format(-datum.value, '~g') : format(datum.value, '~g')", "labelFont": "Liberation Serif"}}}},
    {"data": {"name": "g_pts"}, "mark": {"type": "point", "filled": false, "color": "#222", "strokeWidth": 1.5, "size": 144, "opacity": 1, "clip": true},
     "encoding": {"x": {"field": "x", "type": "quantitative", "title": "TI [ms]", "scale": {"domain": [0, 700], "nice": false}, "axis": {"values": [0,100,200,300,400,500,600,700], "labelExpr": "format(datum.value, '~g')", "labelFont": "Liberation Serif"}},
                  "y": {"field": "y", "type": "quantitative", "title": "Normalized Signal Intensity", "scale": {"domain": [-1, 1], "nice": false, "zero": false}, "axis": {"values": [-0.5,0,0.5,1], "labelExpr": "datum.value < 0 ? '-' + format(-datum.value, '~g') : format(datum.value, '~g')", "labelFont": "Liberation Serif"}},
                  "shape": {"field": "series", "type": "nominal", "scale": {"domain": ["Fitted", "Real"], "range": ["M-1,0H1", "M-0.15,-0.15H0.15V0.15H-0.15Z"]}, "legend": {"title": null, "orient": "none", "legendX": 7, "legendY": 9, "labelFontSize": 18, "rowPadding": 7}}}},
    {"data": {"values": [{}]}, "mark": {"type": "text", "text": "g", "fontSize": 80, "font": "Liberation Serif", "align": "center", "baseline": "alphabetic", "color": "#000"},
     "encoding": {"x": {"datum": -54, "type": "quantitative", "title": "TI [ms]", "scale": {"domain": [0, 700], "nice": false}, "axis": {"values": [0,100,200,300,400,500,600,700], "labelExpr": "format(datum.value, '~g')", "labelFont": "Liberation Serif"}},
                  "y": {"datum": -1.25, "type": "quantitative", "title": "Normalized Signal Intensity", "scale": {"domain": [-1, 1], "nice": false, "zero": false}, "axis": {"values": [-0.5,0,0.5,1], "labelExpr": "datum.value < 0 ? '-' + format(-datum.value, '~g') : format(datum.value, '~g')", "labelFont": "Liberation Serif"}}}},
    {"data": {"values": [{}]}, "mark": {"type": "text", "text": "IR", "angle": 270, "fontSize": 56, "font": "Liberation Serif", "align": "center", "baseline": "alphabetic", "color": "#000"},
     "encoding": {"x": {"datum": -121, "type": "quantitative", "title": "TI [ms]", "scale": {"domain": [0, 700], "nice": false}, "axis": {"values": [0,100,200,300,400,500,600,700], "labelExpr": "format(datum.value, '~g')", "labelFont": "Liberation Serif"}},
                  "y": {"datum": 0.107, "type": "quantitative", "title": "Normalized Signal Intensity", "scale": {"domain": [-1, 1], "nice": false, "zero": false}, "axis": {"values": [-0.5,0,0.5,1], "labelExpr": "datum.value < 0 ? '-' + format(-datum.value, '~g') : format(datum.value, '~g')", "labelFont": "Liberation Serif"}}}}
   ]},
  {"width": 350, "height": 244,
   "layer": [
    {"data": {"name": "h_fit"}, "mark": {"type": "line", "color": "#333", "strokeWidth": 1.5, "interpolate": "monotone", "clip": true},
     "encoding": {"x": {"field": "x", "type": "quantitative", "title": "TI [ms]", "scale": {"domain": [0, 700], "nice": false}, "axis": {"values": [0,100,200,300,400,500,600,700], "labelExpr": "format(datum.value, '~g')", "labelFont": "Liberation Serif"}},
                  "y": {"field": "y", "type": "quantitative", "title": "Normalized Signal Intensity", "scale": {"domain": [-1, 1], "nice": false, "zero": false}, "axis": {"values": [-0.5,0,0.5,1], "labelExpr": "datum.value < 0 ? '-' + format(-datum.value, '~g') : format(datum.value, '~g')", "labelFont": "Liberation Serif"}}}},
    {"data": {"name": "h_pts"}, "mark": {"type": "point", "filled": false, "color": "#222", "strokeWidth": 1.5, "size": 144, "opacity": 1, "clip": true},
     "encoding": {"x": {"field": "x", "type": "quantitative", "title": "TI [ms]", "scale": {"domain": [0, 700], "nice": false}, "axis": {"values": [0,100,200,300,400,500,600,700], "labelExpr": "format(datum.value, '~g')", "labelFont": "Liberation Serif"}},
                  "y": {"field": "y", "type": "quantitative", "title": "Normalized Signal Intensity", "scale": {"domain": [-1, 1], "nice": false, "zero": false}, "axis": {"values": [-0.5,0,0.5,1], "labelExpr": "datum.value < 0 ? '-' + format(-datum.value, '~g') : format(datum.value, '~g')", "labelFont": "Liberation Serif"}},
                  "shape": {"field": "series", "type": "nominal", "scale": {"domain": ["Fitted", "Real"], "range": ["M-1,0H1", "M-0.15,-0.15H0.15V0.15H-0.15Z"]}, "legend": {"title": null, "orient": "none", "legendX": 7, "legendY": 9, "labelFontSize": 18, "rowPadding": 7}}}},
    {"data": {"values": [{}]}, "mark": {"type": "text", "text": "h", "fontSize": 80, "font": "Liberation Serif", "align": "center", "baseline": "alphabetic", "color": "#000"},
     "encoding": {"x": {"datum": -50, "type": "quantitative", "title": "TI [ms]", "scale": {"domain": [0, 700], "nice": false}, "axis": {"values": [0,100,200,300,400,500,600,700], "labelExpr": "format(datum.value, '~g')", "labelFont": "Liberation Serif"}},
                  "y": {"datum": -1.37, "type": "quantitative", "title": "Normalized Signal Intensity", "scale": {"domain": [-1, 1], "nice": false, "zero": false}, "axis": {"values": [-0.5,0,0.5,1], "labelExpr": "datum.value < 0 ? '-' + format(-datum.value, '~g') : format(datum.value, '~g')", "labelFont": "Liberation Serif"}}}}
   ]},
  {"width": 350, "height": 244,
   "layer": [
    {"data": {"name": "i_fit"}, "mark": {"type": "line", "color": "#333", "strokeWidth": 1.5, "interpolate": "monotone", "clip": true},
     "encoding": {"x": {"field": "x", "type": "quantitative", "title": "TI [ms]", "scale": {"domain": [0, 700], "nice": false}, "axis": {"values": [0,100,200,300,400,500,600,700], "labelExpr": "format(datum.value, '~g')", "labelFont": "Liberation Serif"}},
                  "y": {"field": "y", "type": "quantitative", "title": "Normalized Signal Intensity", "scale": {"domain": [-1, 1], "nice": false, "zero": false}, "axis": {"values": [-0.5,0,0.5,1], "labelExpr": "datum.value < 0 ? '-' + format(-datum.value, '~g') : format(datum.value, '~g')", "labelFont": "Liberation Serif"}}}},
    {"data": {"name": "i_pts"}, "mark": {"type": "point", "filled": false, "color": "#222", "strokeWidth": 1.5, "size": 144, "opacity": 1, "clip": true},
     "encoding": {"x": {"field": "x", "type": "quantitative", "title": "TI [ms]", "scale": {"domain": [0, 700], "nice": false}, "axis": {"values": [0,100,200,300,400,500,600,700], "labelExpr": "format(datum.value, '~g')", "labelFont": "Liberation Serif"}},
                  "y": {"field": "y", "type": "quantitative", "title": "Normalized Signal Intensity", "scale": {"domain": [-1, 1], "nice": false, "zero": false}, "axis": {"values": [-0.5,0,0.5,1], "labelExpr": "datum.value < 0 ? '-' + format(-datum.value, '~g') : format(datum.value, '~g')", "labelFont": "Liberation Serif"}},
                  "shape": {"field": "series", "type": "nominal", "scale": {"domain": ["Fitted", "Real"], "range": ["M-1,0H1", "M-0.15,-0.15H0.15V0.15H-0.15Z"]}, "legend": {"title": null, "orient": "none", "legendX": 7, "legendY": 9, "labelFontSize": 18, "rowPadding": 7}}}},
    {"data": {"values": [{}]}, "mark": {"type": "text", "text": "i", "fontSize": 80, "font": "Liberation Serif", "align": "center", "baseline": "alphabetic", "color": "#000"},
     "encoding": {"x": {"datum": -58, "type": "quantitative", "title": "TI [ms]", "scale": {"domain": [0, 700], "nice": false}, "axis": {"values": [0,100,200,300,400,500,600,700], "labelExpr": "format(datum.value, '~g')", "labelFont": "Liberation Serif"}},
                  "y": {"datum": -1.37, "type": "quantitative", "title": "Normalized Signal Intensity", "scale": {"domain": [-1, 1], "nice": false, "zero": false}, "axis": {"values": [-0.5,0,0.5,1], "labelExpr": "datum.value < 0 ? '-' + format(-datum.value, '~g') : format(datum.value, '~g')", "labelFont": "Liberation Serif"}}}}
   ]}
]
}
